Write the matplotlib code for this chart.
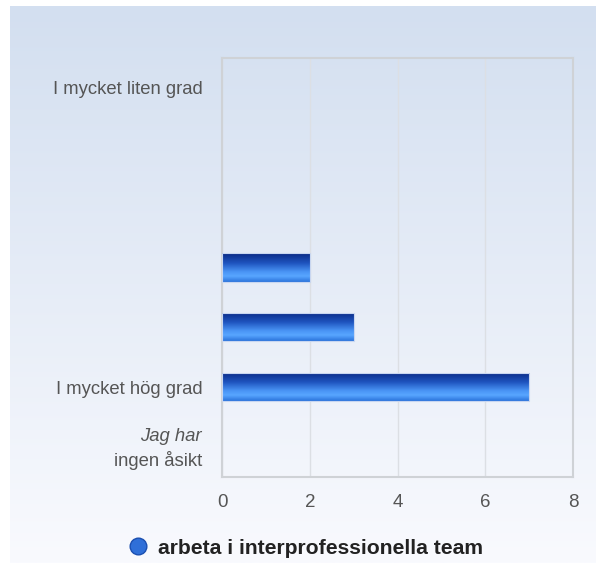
import matplotlib
matplotlib.use("Agg")
import matplotlib.pyplot as plt
from matplotlib.lines import Line2D
from matplotlib.patches import Rectangle
import matplotlib.transforms as mtransforms
import numpy as np

# Data
categories = ["I mycket liten grad", "", "", "", "", "I mycket hög grad", "Jag har ingen åsikt"]
values = [0, 0, 0, 2, 3, 7, 0]
series_name = "arbeta i interprofessionella team"
x_ticks = [0, 2, 4, 6, 8]

plt.rcParams['font.family'] = ['Liberation Sans', 'DejaVu Sans']

W, H = 596, 563
fig = plt.figure(figsize=(W / 100, H / 100), dpi=100)
fig.patch.set_facecolor('white')

# background gradient panel
bg = fig.add_axes([10 / W, 0, 1 - 10 / W, 1 - 6 / H], zorder=-10)
grad = np.linspace(0, 1, 256).reshape(-1, 1)
top_c = np.array([0xd3, 0xdf, 0xf0]) / 255
bot_c = np.array([0xf9, 0xfa, 0xfe]) / 255
img = top_c * (1 - grad[..., None]) + bot_c * grad[..., None]
bg.imshow(img, aspect='auto', extent=[0, 1, 0, 1], origin='upper')
bg.axis('off')

# plot area: x 222->573, y 58->477
ax = fig.add_axes([222 / W, 1 - 477 / H, (573 - 222) / W, (477 - 58) / H])
ax.set_facecolor('none')

ypos = np.arange(len(categories))
bars = ax.barh(ypos, values, height=0.47, color='#2f6fd8', edgecolor='none', zorder=3)

# vertical gradient on each bar
stops = np.array([
    [0x0a, 0x2a, 0x85],
    [0x1f, 0x55, 0xc0],
    [0x4a, 0x95, 0xf5],
    [0x58, 0xa6, 0xff],
    [0x2c, 0x74, 0xdc],
]) / 255
pos = np.array([0.0, 0.35, 0.65, 0.8, 1.0])
t = np.linspace(0, 1, 64)
gcol = np.stack([np.interp(t, pos, stops[:, k]) for k in range(3)], axis=1)[:, None, :]
for b, v in zip(bars, values):
    if v <= 0:
        continue
    x0, y0 = b.get_x(), b.get_y()
    w, h = b.get_width(), b.get_height()
    im = ax.imshow(gcol, aspect='auto', extent=[x0, x0 + w, y0 + h, y0],
                   origin='upper', zorder=4)
    im.set_clip_path(b)
    ax.add_patch(Rectangle((x0, y0), w, h, fill=False, edgecolor='#c8d6f0',
                           linewidth=0.8, zorder=5))

ax.set_xlim(0, 8)
ax.set_ylim(len(categories) - 0.5, -0.5)
ax.set_xticks(x_ticks)
ax.set_xticklabels([str(v) for v in x_ticks])
ax.grid(axis='x', color='#dcdfe4', linewidth=1, zorder=0)
ax.set_axisbelow(True)
for s in ax.spines.values():
    s.set_color('#cfd2d6')
    s.set_linewidth(1.5)

lab_size = 13.3
ax.tick_params(axis='x', length=0, pad=12, labelsize=13.5, labelcolor='#555555')
ax.tick_params(axis='y', length=0, pad=14, labelsize=lab_size, labelcolor='#555555')
ax.set_yticks(ypos)
ax.set_yticklabels(categories[:-1] + [""])

# last category: italic first line
trans = mtransforms.blended_transform_factory(ax.transAxes, ax.transData)
off = mtransforms.offset_copy(trans, fig=fig, x=-14.4, y=0, units='points')
words = categories[-1].split(" ")
ax.text(0, ypos[-1] - 0.18, " ".join(words[:2]), transform=off, ha='right', va='center',
        fontsize=lab_size, color='#555555', style='italic')
ax.text(0, ypos[-1] + 0.22, " ".join(words[2:]), transform=off, ha='right', va='center',
        fontsize=lab_size, color='#555555')

# legend
handle = Line2D([], [], marker='o', linestyle='none', markersize=12,
                markerfacecolor='#2f6fd8', markeredgecolor='#1b4fb0')
fig.legend([handle], [series_name], loc='center', bbox_to_anchor=(305 / W, 1 - 548 / H),
           frameon=False, handletextpad=0.45, handlelength=1.0,
           prop={'weight': 'bold', 'size': 15.2}, labelcolor='#222222')

fig.savefig('out.png', dpi=100)
